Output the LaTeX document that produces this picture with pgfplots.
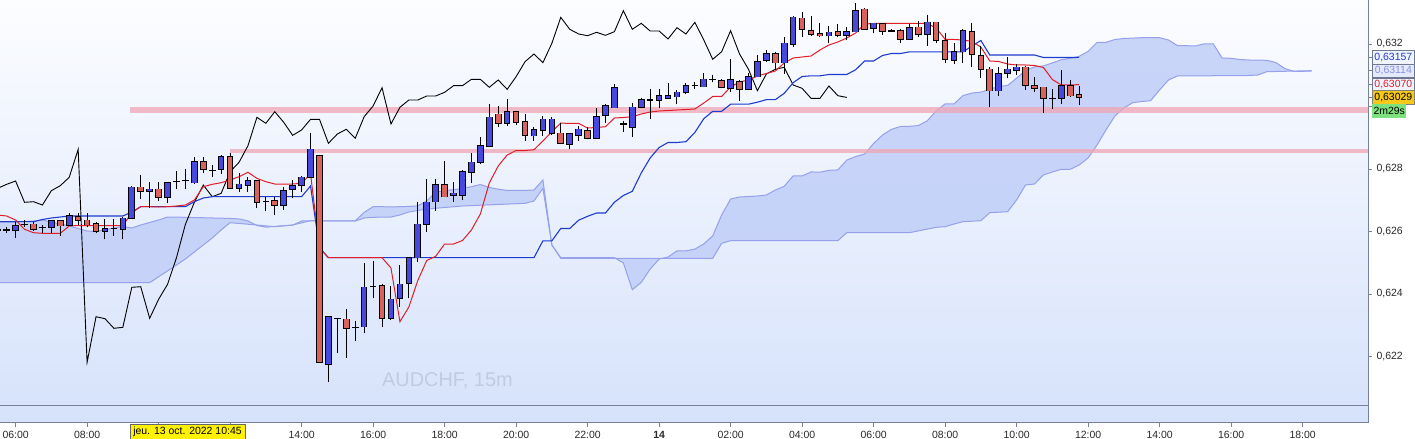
\documentclass[border=0pt]{standalone}
\usepackage{fontspec}
\setmainfont{Liberation Sans}
\usepackage{pgfplots}
\usepackage{pgfplotstable}
\pgfplotsset{compat=1.18}
\usepgfplotslibrary{fillbetween}

\definecolor{upcol}{RGB}{72,72,222}
\definecolor{dncol}{RGB}{218,98,92}
\definecolor{tenkancol}{RGB}{225,30,40}
\definecolor{kijuncol}{RGB}{30,60,205}
\definecolor{spancol}{RGB}{150,160,235}
\definecolor{cloudfill}{RGB}{195,208,248}
\definecolor{pinkcol}{RGB}{240,165,178}
\definecolor{bgtop}{RGB}{252,253,255}
\definecolor{bgbot}{RGB}{214,226,251}
\definecolor{axgray}{RGB}{120,130,150}
\definecolor{labcol}{RGB}{40,40,40}
\definecolor{wmcol}{RGB}{192,202,225}
\definecolor{boxborder}{RGB}{110,120,145}
\definecolor{box1fill}{RGB}{240,244,255}
\definecolor{box2fill}{RGB}{228,233,252}
\definecolor{span2txt}{RGB}{135,145,228}
\definecolor{lastfill}{RGB}{245,200,25}
\definecolor{timefill}{RGB}{125,225,125}

\pgfplotstableread{
k o h l c
-2 .626048 .626112 .625984 .626048
-1 .626048 .626144 .625952 .626048
0 .626048 .626304 .625792 .626176
1 .626224 .626368 .626144 .626224
2 .626230 .626314 .626026 .626070
3 .626122 .626208 .625952 .626122
4 .626134 .626368 .625952 .626336
5 .626336 .626368 .625866 .626186
6 .626198 .626602 .626176 .626496
7 .626474 .626602 .626208 .626368
8 .626358 .626602 .626134 .626218
9 .626240 .626314 .625942 .626006
10 .626006 .626400 .625750 .626080
11 .626102 .626390 .625856 .626102
12 .626070 .626454 .625750 .626422
13 .626422 .627456 .626422 .627414
14 .627414 .627808 .627030 .627286
15 .627286 .627594 .626742 .627350
16 .627350 .627594 .626986 .627094
17 .627094 .627594 .626902 .627562
18 .627594 .627946 .627350 .627594
19 .627626 .627990 .627350 .627626
20 .627562 .628394 .627520 .628234
21 .628234 .628394 .627862 .627990
22 .627946 .628128 .627754 .627946
23 .627990 .628448 .627840 .628394
24 .628394 .628522 .627382 .627382
25 .627382 .627862 .627254 .627510
26 .627488 .627734 .627274 .627616
27 .627616 .627648 .626742 .626934
28 .626954 .627114 .626666 .626954
29 .626976 .627114 .626528 .626848
30 .626848 .627434 .626688 .627306
31 .627350 .627648 .627062 .627466
32 .627488 .627776 .627274 .627734
33 .627734 .629142 .627734 .628630
34 .628416 .628416 .621814 .621814
35 .621750 .623274 .621174 .623274
36 .623210 .623242 .622122 .623210
37 .623190 .623510 .621962 .622902
38 .622934 .623146 .622496 .622934
39 .622954 .624982 .622742 .624214
40 .624234 .625056 .623862 .624234
41 .624256 .624320 .622954 .623222
42 .623222 .624256 .623168 .623830
43 .623862 .624928 .623594 .624310
44 .624342 .625194 .623862 .625162
45 .625162 .626954 .625034 .626230
46 .626230 .627670 .625994 .626934
47 .626954 .627670 .626666 .627488
48 .627488 .628256 .627114 .627114
49 .627168 .627594 .626954 .627222
50 .627168 .627968 .627008 .627914
51 .627894 .628502 .627562 .628214
52 .628214 .629034 .628160 .628746
53 .628736 .630080 .628736 .629654
54 .629750 .630016 .629334 .629462
55 .629462 .630230 .629376 .629834
56 .629834 .629834 .629408 .629494
57 .629514 .629760 .628906 .629078
58 .629066 .629334 .628906 .629248
59 .629248 .629696 .629066 .629590
60 .629142 .629674 .629088 .629590
61 .629142 .629462 .628800 .628822
62 .628800 .629162 .628630 .629120
63 .629078 .629376 .628906 .629270
64 .629226 .629334 .628950 .628982
65 .628982 .629942 .628950 .629674
66 .629728 .630080 .629482 .630016
67 .629962 .630710 .629962 .630602
68 .629440 .629536 .629174 .629440
69 .629334 .630102 .629034 .629974
70 .629974 .630262 .629942 .630208
71 .630208 .630550 .629590 .630208
72 .630208 .630550 .629942 .630336
73 .630262 .630742 .630230 .630336
74 .630314 .630528 .630070 .630454
75 .630454 .630742 .630390 .630666
76 .630666 .630774 .630560 .630666
77 .630634 .631062 .630634 .630870
78 .630870 .631008 .630774 .630870
79 .630826 .630880 .630582 .630614
80 .630582 .631520 .630454 .630848
81 .630794 .630848 .630176 .630550
82 .630550 .631062 .630550 .630954
83 .630954 .631648 .630954 .631434
84 .631472 .631808 .631424 .631680
85 .631680 .631754 .631168 .631402
86 .631402 .632214 .631040 .632022
87 .632000 .632896 .631914 .632854
88 .632822 .633014 .632214 .632470
89 .632426 .632896 .632256 .632320
90 .632320 .632662 .632214 .632266
91 .632266 .632576 .632022 .632374
92 .632394 .632640 .632214 .632278
93 .632278 .632554 .632128 .632394
94 .632394 .633322 .632394 .633066
95 .633110 .633142 .632470 .632470
96 .632502 .632682 .632342 .632662
97 .632640 .632682 .632288 .632416
98 .632416 .632470 .632394 .632416
99 .632416 .632470 .632022 .632160
100 .632150 .632640 .632128 .632522
101 .632534 .632736 .632234 .632320
102 .632320 .632928 .631936 .632694
103 .632694 .632694 .632022 .632128
104 .632106 .632342 .631382 .631510
105 .631488 .632042 .631360 .631754
106 .631754 .632470 .631402 .632426
107 .632394 .632682 .631254 .631680
108 .631626 .631936 .630902 .631190
109 .631190 .631254 .629974 .630506
110 .630506 .631254 .630336 .631040
111 .631062 .631574 .630902 .631190
112 .631168 .631360 .631008 .631254
113 .631254 .631296 .630528 .630688
114 .630656 .630954 .630474 .630582
115 .630614 .630614 .629802 .630262
116 .630262 .630550 .629910 .630262
117 .630262 .631168 .630080 .630656
118 .630656 .630848 .630314 .630346
119 .630368 .630656 .630048 .630290
}\candles

\pgfplotstableread{
k t kj
-2 .626528 .626314
-1 .626496 .626314
0 .626368 .626314
1 .626070 .626314
2 .625962 .626314
3 .625942 .626384
4 .625942 .626432
5 .625942 .626464
6 .626176 .626496
7 .626192 .626496
8 .626192 .626496
9 .626192 .626496
10 .626192 .626496
11 .626192 .626496
12 .626192 .626496
13 .626602 .626624
14 .626794 .626794
15 .626794 .626794
16 .626784 .626794
17 .626794 .626794
18 .626816 .626794
19 .626848 .626794
20 .627008 .626954
21 .627434 .627072
22 .627510 .627114
23 .627562 .627114
24 .627648 .627114
25 .627754 .627114
26 .627894 .627114
27 .627702 .627114
28 .627594 .627114
29 .627520 .627114
30 .627520 .627114
31 .627520 .627114
32 .627542 .627114
33 .627840 .627456
34 .625482 .625478
35 .625162 .625162
36 .625162 .625162
37 .625162 .625162
38 .625162 .625162
39 .625162 .625162
40 .625162 .625162
41 .625162 .625162
42 .624832 .625162
43 .623114 .625162
44 .623584 .625162
45 .624432 .625162
46 .625072 .625162
47 .625206 .625162
48 .625600 .625162
49 .625600 .625162
50 .625712 .625162
51 .626048 .625162
52 .626560 .625162
53 .627552 .625162
54 .628096 .625162
55 .628448 .625162
56 .628592 .625162
57 .628592 .625162
58 .628618 .625162
59 .628896 .625702
60 .629194 .625702
61 .629472 .626096
62 .629456 .626096
63 .629456 .626362
64 .629312 .626486
65 .629328 .626592
66 .629354 .626592
67 .629632 .626938
68 .629648 .627152
69 .629674 .627286
70 .629760 .627872
71 .629824 .628352
72 .629856 .628688
73 .629872 .628848
74 .629888 .628848
75 .629904 .628874
76 .629920 .629168
77 .630112 .629610
78 .630320 .629846
79 .630320 .629846
80 .630624 .630074
81 .630784 .630074
82 .630848 .630074
83 .630976 .630138
84 .631056 .630218
85 .631136 .630218
86 .631392 .630422
87 .631552 .630762
88 .631584 .630960
89 .631616 .630982
90 .631808 .630982
91 .631968 .631024
92 .632064 .631024
93 .632192 .631024
94 .632352 .631178
95 .632640 .631456
96 .632656 .631456
97 .632656 .631632
98 .632656 .631696
99 .632656 .631696
100 .632656 .631747
101 .632656 .631747
102 .632656 .631747
103 .632512 .631747
104 .632150 .631747
105 .632144 .631747
106 .632128 .631747
107 .632080 .631936
108 .631904 .632112
109 .631456 .631648
110 .631440 .631648
111 .631360 .631648
112 .631328 .631648
113 .631328 .631648
114 .631312 .631648
115 .631248 .631568
116 .630864 .631568
117 .630688 .631568
118 .630688 .631568
119 .630700 .631570
}\tk

\pgfplotstableread{
k a
-2 .626304
0 .626304
2 .626336
3 .626368
5 .626240
6 .626176
7 .626096
8 .626016
9 .625994
10 .626064
12 .626160
13 .626112
14 .626208
15 .626288
16 .626368
17 .626464
19 .626454
24 .626419
25 .626403
26 .626339
27 .626192
28 .626138
29 .626163
30 .626186
31 .626202
32 .626336
33 .626342
38 .626342
39 .626611
40 .626794
41 .626794
42 .626787
43 .626794
44 .626803
45 .626819
46 .626979
47 .627251
48 .627312
49 .627338
50 .627379
51 .627434
52 .627504
53 .627408
54 .627354
55 .627315
57 .627315
58 .627328
59 .627648
60 .625568
61 .625162
67 .625162
68 .624995
69 .624138
70 .624371
71 .624797
72 .625117
73 .625184
74 .625379
75 .625379
76 .625437
77 .625603
78 .625859
79 .626528
80 .627040
81 .627104
82 .627120
83 .627136
84 .627168
85 .627328
86 .627446
87 .627782
88 .627776
89 .627907
90 .627898
91 .627958
92 .627971
93 .628285
94 .628400
95 .628480
96 .628816
97 .629088
98 .629270
99 .629360
100 .629366
101 .629389
102 .629542
103 .629859
104 .630083
105 .630083
106 .630349
107 .630429
108 .630461
109 .630557
110 .630637
111 .630675
112 .630906
113 .631155
114 .631270
115 .631299
116 .631395
117 .631494
118 .631542
119 .631606
120 .631763
121 .632048
122 .632054
123 .632144
124 .632176
126 .632202
128 .632202
129 .632128
130 .631949
131 .631946
132 .631936
133 .632006
134 .632006
135 .631552
136 .631542
137 .631504
138 .631488
140 .631478
141 .631408
142 .631216
143 .631126
144 .631126
145 .631136
}\spanA

\pgfplotstableread{
k b
-2 .624362
15 .624362
18 .624928
19 .625120
21 .625568
22 .625792
23 .626048
24 .626282
27 .626208
29 .626154
31 .626208
33 .626346
38 .626336
39 .626432
40 .626454
42 .626464
43 .626528
44 .626624
46 .626720
48 .626768
50 .626816
57 .626902
58 .626976
59 .627382
60 .625568
61 .625142
78 .625142
79 .625622
80 .625706
92 .625706
93 .625962
100 .625962
103 .626134
104 .626154
105 .626240
106 .626314
108 .626346
109 .626602
111 .626634
112 .627008
113 .627488
114 .627520
115 .627808
116 .627904
117 .627990
118 .627990
119 .628128
120 .628352
121 .628768
122 .629248
123 .629696
124 .629952
125 .630122
126 .630160
127 .630186
128 .630528
129 .630848
130 .630976
138 .630992
139 .631008
140 .631114
145 .631146
}\spanB

\begin{document}
\begin{tikzpicture}
\begin{axis}[
  at={(0,0)}, anchor=south west,
  scale only axis, width=1368bp, height=422.7bp,
  xmin=-1.7455, xmax=151.32, ymin=0.619882, ymax=0.633408,
  axis x line*=bottom, axis y line*=right,
  axis line style={draw=axgray, line width=0.8bp, -},
  clip mode=individual,
  axis background/.style={top color=bgtop, bottom color=bgbot},
  xtick={0,8,16,24,32,40,48,56,64,72,80,88,96,104,112,120,128,136,144},
  xticklabels={06:00,08:00,{},{},14:00,16:00,18:00,20:00,22:00,\textbf{14},02:00,04:00,06:00,08:00,10:00,12:00,14:00,16:00,18:00},
  ytick={0.622,0.624,0.626,0.628,0.630,0.632},
  yticklabels={{0,622},{0,624},{0,626},{0,628},{},{0,632}},
  extra y ticks={0.63157,0.63114,0.63070,0.63029},
  extra y tick labels={},
  tick align=outside, major tick length=4bp,
  tick style={draw=axgray, line width=0.8bp},
  tick label style={font=\fontsize{10.5}{12}\selectfont, text=labcol},
  xticklabel style={yshift=-1bp},
  yticklabel style={xshift=1bp},
]
% Ichimoku cloud
\addplot[name path=A, draw=none, forget plot] table[x=k,y=a]{\spanA};
\addplot[name path=B, draw=none, forget plot] table[x=k,y=b]{\spanB};
\addplot[cloudfill, fill opacity=0.9, forget plot] fill between[of=A and B];
\addplot[spancol, line width=1bp] table[x=k,y=a]{\spanA};
\addplot[spancol, line width=1bp] table[x=k,y=b]{\spanB};
% horizontal levels
\addplot[pinkcol, line width=5.5bp, opacity=0.75] coordinates {(12.8,0.629888) (151.32,0.629888)};
\addplot[pinkcol, line width=4bp, opacity=0.75] coordinates {(24.0,0.628576) (151.32,0.628576)};
\addplot[axgray, line width=0.8bp] coordinates {(-1.7455,0.620448) (151.32,0.620448)};
% chikou, kijun, tenkan
\addplot[black, line width=0.9bp] table[x expr=\thisrow{k}-26, y=c]{\candles};
\addplot[kijuncol, line width=1.1bp] table[x=k,y=kj]{\tk};
\addplot[tenkancol, line width=1bp] table[x=k,y=t]{\tk};
% candles: wicks
\addplot[draw=none, forget plot, error bars/.cd, y dir=plus, y explicit, error mark=none,
  error bar style={draw=black, line width=1bp, solid}]
  table[x=k, y=l, y error expr={\thisrow{h}-\thisrow{l}}]{\candles};
% candle outlines
\addplot[draw=none, forget plot, error bars/.cd, y dir=plus, y explicit, error mark=none,
  error bar style={draw=black, line width=6.6bp, solid}]
  table[x=k, y expr={min(\thisrow{o},\thisrow{c})-0.0000192}, y error expr={abs(\thisrow{c}-\thisrow{o})+0.0000384}]{\candles};
% up bodies
\addplot[draw=none, forget plot, restrict expr to domain={\thisrow{c}-\thisrow{o}}{0.0000001:1},
  error bars/.cd, y dir=plus, y explicit, error mark=none,
  error bar style={draw=upcol, line width=4.6bp, solid}]
  table[x=k, y=o, y error expr={\thisrow{c}-\thisrow{o}}]{\candles};
% down bodies
\addplot[draw=none, forget plot, restrict expr to domain={\thisrow{o}-\thisrow{c}}{0.0000001:1},
  error bars/.cd, y dir=plus, y explicit, error mark=none,
  error bar style={draw=dncol, line width=4.6bp, solid}]
  table[x=k, y=c, y error expr={\thisrow{o}-\thisrow{c}}]{\candles};
% annotations
\node[text=wmcol, font=\fontsize{20}{24}\selectfont] at (axis cs:48.32,0.621216) {AUDCHF, 15m};
\node[fill=yellow, draw=black!60, line width=0.6bp, minimum width=115bp, minimum height=15bp, inner sep=0pt, font=\fontsize{10.5}{12}\selectfont] at (axis cs:19.23,0.61960) {jeu. 13 oct. 2022 10:45};
\node[anchor=west, fill=box1fill, draw=boxborder, line width=0.6bp, text=kijuncol, minimum width=42bp, minimum height=13.4bp, inner sep=0pt, font=\fontsize{10.5}{12}\selectfont] at (axis cs:151.77,0.63157) {0,63157};
\node[anchor=west, fill=box2fill, draw=boxborder, line width=0.6bp, text=span2txt, minimum width=42bp, minimum height=13.4bp, inner sep=0pt, font=\fontsize{10.5}{12}\selectfont] at (axis cs:151.77,0.63114) {0,63114};
\node[anchor=west, fill=box1fill, draw=boxborder, line width=0.6bp, text=tenkancol, minimum width=42bp, minimum height=13.4bp, inner sep=0pt, font=\fontsize{10.5}{12}\selectfont] at (axis cs:151.77,0.63070) {0,63070};
\node[anchor=west, fill=lastfill, draw=black!50, line width=0.6bp, text=black, minimum width=42bp, minimum height=13.4bp, inner sep=0pt, font=\fontsize{10.5}{12}\selectfont] at (axis cs:151.77,0.63029) {0,63029};
\node[anchor=west, fill=timefill, draw=none, text=black, minimum width=34bp, minimum height=13.4bp, inner sep=0pt, font=\fontsize{10.5}{12}\selectfont] at (axis cs:151.77,0.629856) {2m29s};
\end{axis}
\pgfresetboundingbox
\path[use as bounding box] (0,-16.3bp) rectangle (1415bp,422.7bp);
\end{tikzpicture}
\end{document}
